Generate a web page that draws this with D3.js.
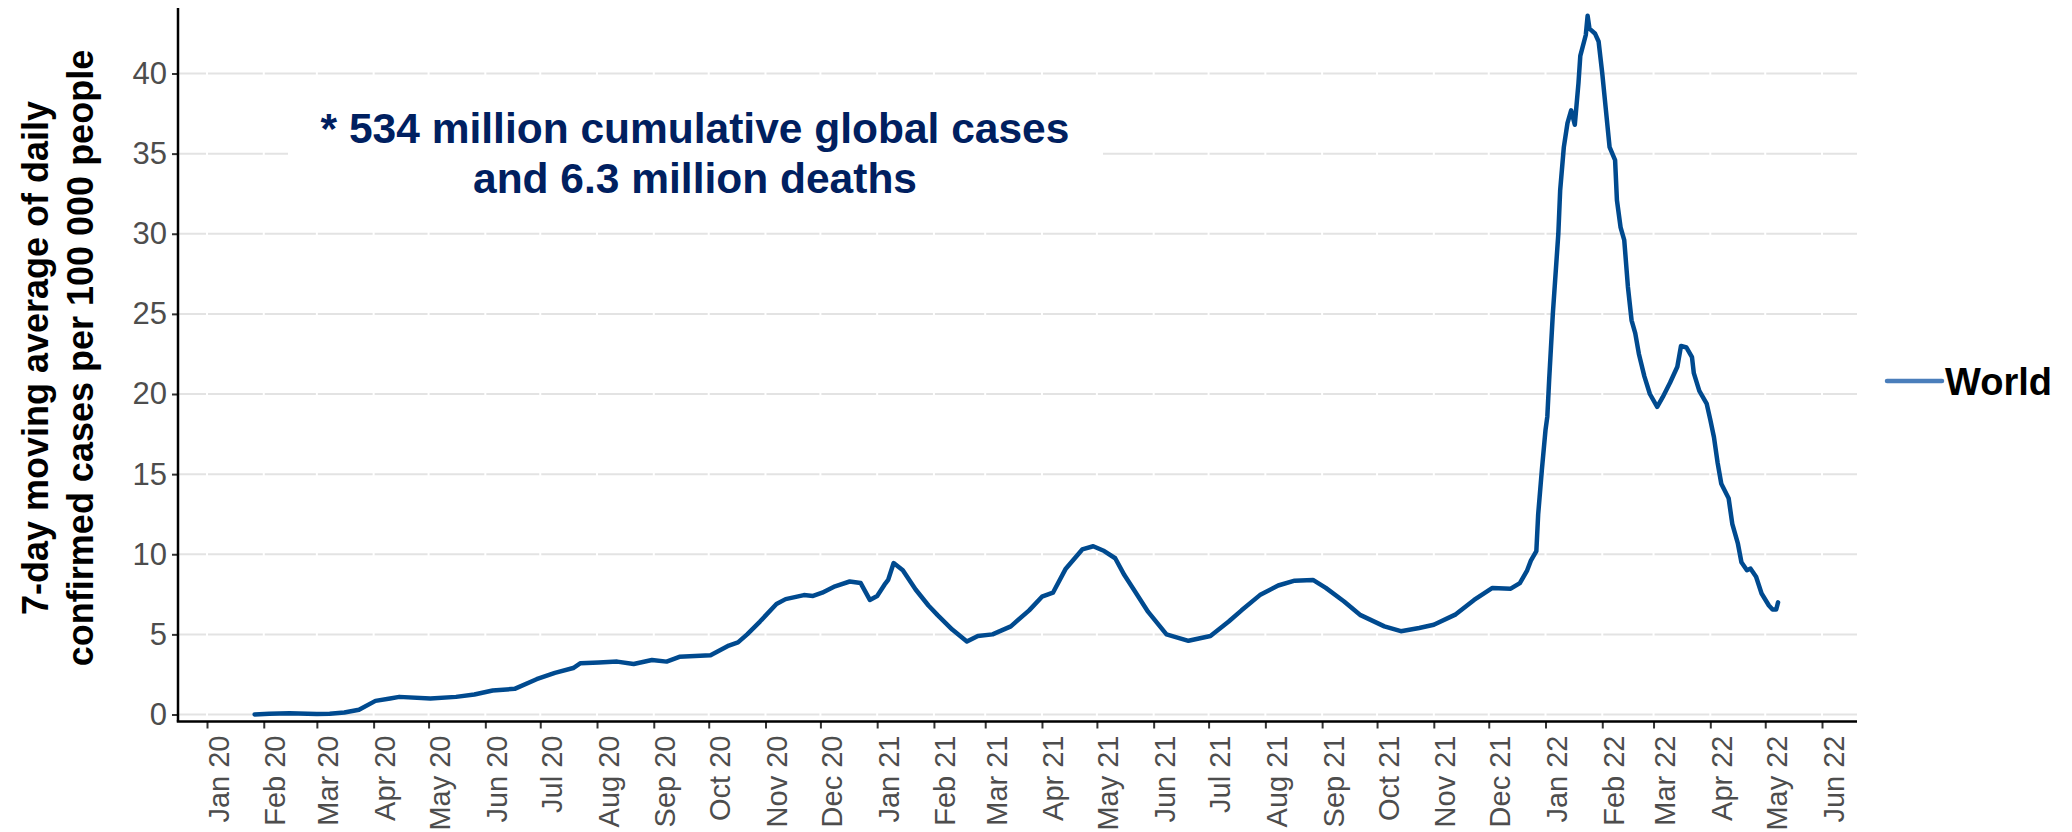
<!DOCTYPE html>
<html>
<head>
<meta charset="utf-8">
<script src="https://cdn.jsdelivr.net/npm/d3@7"></script>
<style>
  html, body { margin: 0; padding: 0; background: #ffffff; }
  svg { display: block; font-family: Arial, "Liberation Sans", sans-serif; }
</style>
</head>
<body>
<svg id="chart" width="2072" height="832"></svg>
<script>
// ---------------- data ----------------
const seriesName = "World";
const dates = [
  "2020-01-27","2020-02-04","2020-02-15","2020-03-01","2020-03-08","2020-03-16","2020-03-24","2020-04-02",
  "2020-04-10","2020-04-15","2020-05-02","2020-05-16","2020-05-26","2020-06-05","2020-06-17","2020-06-29",
  "2020-07-09","2020-07-19","2020-07-23","2020-08-02","2020-08-12","2020-08-21","2020-08-31","2020-09-08",
  "2020-09-15","2020-10-02","2020-10-12","2020-10-17","2020-10-22","2020-10-29","2020-11-07","2020-11-12",
  "2020-11-22","2020-11-27","2020-12-02","2020-12-09","2020-12-17","2020-12-23","2020-12-28","2021-01-01",
  "2021-01-05","2021-01-07","2021-01-10","2021-01-15","2021-01-22","2021-01-29","2021-02-03","2021-02-11",
  "2021-02-19","2021-02-25","2021-03-05","2021-03-15","2021-03-25","2021-04-01","2021-04-07","2021-04-14",
  "2021-04-23","2021-04-29","2021-05-05","2021-05-11","2021-05-16","2021-05-22","2021-05-29","2021-06-08",
  "2021-06-20","2021-07-02","2021-07-12","2021-07-19","2021-07-29","2021-08-08","2021-08-17","2021-08-27",
  "2021-09-03","2021-09-13","2021-09-22","2021-10-05","2021-10-14","2021-10-24","2021-11-01","2021-11-13",
  "2021-11-23","2021-12-03","2021-12-13","2021-12-18","2021-12-22","2021-12-24","2021-12-27","2021-12-28",
  "2021-12-30","2022-01-01","2022-01-02","2022-01-03","2022-01-05","2022-01-08","2022-01-09","2022-01-11",
  "2022-01-13","2022-01-15","2022-01-17","2022-01-19","2022-01-20","2022-01-23","2022-01-24","2022-01-25",
  "2022-01-28","2022-01-30","2022-02-01","2022-02-03","2022-02-05","2022-02-08","2022-02-09","2022-02-11",
  "2022-02-13","2022-02-15","2022-02-17","2022-02-19","2022-02-21","2022-02-24","2022-02-27","2022-03-03",
  "2022-03-06","2022-03-10","2022-03-14","2022-03-16","2022-03-19","2022-03-22","2022-03-23","2022-03-26",
  "2022-03-30","2022-04-01","2022-04-03","2022-04-05","2022-04-07","2022-04-11","2022-04-13","2022-04-16",
  "2022-04-18","2022-04-21","2022-04-23","2022-04-26","2022-04-29","2022-05-03","2022-05-05","2022-05-07",
  "2022-05-08"
];
const values = [
  0.0, 0.05, 0.08, 0.03, 0.05, 0.12, 0.3, 0.85,
  1.0, 1.1, 1.0, 1.1, 1.25, 1.5, 1.6, 2.2,
  2.6, 2.9, 3.2, 3.25, 3.3, 3.15, 3.4, 3.3,
  3.6, 3.7, 4.3, 4.5, 5.0, 5.8, 6.9, 7.2,
  7.45, 7.4, 7.6, 8.0, 8.3, 8.2, 7.15, 7.4,
  8.1, 8.4, 9.45, 9.0, 7.8, 6.8, 6.2, 5.3,
  4.55, 4.9, 5.0, 5.5, 6.5, 7.35, 7.6, 9.1,
  10.3, 10.5, 10.2, 9.75, 8.7, 7.65, 6.4, 5.0,
  4.6, 4.9, 5.8, 6.5, 7.45, 8.05, 8.35, 8.4,
  7.9, 7.05, 6.2, 5.5, 5.2, 5.4, 5.6, 6.25,
  7.15, 7.9, 7.85, 8.2, 9.0, 9.6, 10.2, 12.5,
  15.25, 17.75, 18.6, 20.9, 25.0, 30.0, 32.7, 35.4,
  36.9, 37.7, 36.8, 39.4, 41.1, 42.4, 43.6, 42.8,
  42.5, 42.0, 40.0, 37.7, 35.4, 34.6, 32.1, 30.4,
  29.6, 26.7, 24.6, 23.8, 22.5, 21.1, 20.0, 19.2,
  19.8, 20.7, 21.7, 23.0, 22.9, 22.3, 21.3, 20.2,
  19.4, 18.4, 17.3, 15.7, 14.4, 13.5, 11.9, 10.7,
  9.5, 9.0, 9.1, 8.6, 7.55, 6.8, 6.55, 6.55,
  7.0
];
const yTicks = [0, 5, 10, 15, 20, 25, 30, 35, 40];
const xTickStart = "2020-01-01";
const xTickEnd = "2022-06-01";
const yTitleLines = ["7-day moving average of daily", "confirmed cases per 100 000 people"];
const noteLines = ["* 534 million cumulative global cases", "and 6.3 million deaths"];

// ---------------- layout ----------------
const parse = d3.utcParse("%Y-%m-%d");
const data = dates.map((d, i) => ({ date: parse(d), value: values[i] }));

const plot = { left: 178, right: 1857, top: 8, bottom: 721.5 };

const x = d3.scaleUtc()
  .domain([parse(xTickStart), parse(xTickEnd)])
  .range([207, 1822]);
const y = d3.scaleLinear()
  .domain([0, 40])
  .range([714.5, 73.5]);

const months = d3.utcMonth.range(parse(xTickStart), d3.utcDay.offset(parse(xTickEnd), 1));
const fmt = d3.utcFormat("%b %y");

const svg = d3.select("#chart");
svg.append("rect").attr("width", 2072).attr("height", 832).attr("fill", "#ffffff");

// horizontal grid
svg.append("g").selectAll("line").data(yTicks).join("line")
  .attr("x1", plot.left).attr("x2", plot.right)
  .attr("y1", d => y(d)).attr("y2", d => y(d))
  .attr("stroke", "#e3e3e3").attr("stroke-width", 2);

// white vertical grid (breaks the horizontal lines at month ticks)
svg.append("g").selectAll("line").data(months).join("line")
  .attr("x1", d => x(d)).attr("x2", d => x(d))
  .attr("y1", plot.top).attr("y2", plot.bottom)
  .attr("stroke", "#ffffff").attr("stroke-width", 2);

// annotation box
const note = svg.append("g");
note.append("rect")
  .attr("x", 288).attr("y", 96).attr("width", 815).attr("height", 116)
  .attr("fill", "#ffffff");
note.selectAll("text").data(noteLines).join("text")
  .attr("x", 695).attr("y", (d, i) => 143 + i * 50)
  .attr("text-anchor", "middle")
  .attr("font-size", 42.5).attr("font-weight", "bold")
  .attr("fill", "#002060")
  .text(d => d);

// data line
const line = d3.line().x(d => x(d.date)).y(d => y(d.value)).curve(d3.curveLinear);
svg.append("path").datum(data)
  .attr("d", line)
  .attr("fill", "none")
  .attr("stroke", "#004a8f")
  .attr("stroke-width", 4.5)
  .attr("stroke-linejoin", "round")
  .attr("stroke-linecap", "round");

// x axis
const xAxis = svg.append("g").attr("transform", `translate(0,${plot.bottom})`)
  .call(d3.axisBottom(x).tickValues(months).tickFormat(fmt).tickSize(7).tickPadding(0));
xAxis.select(".domain").remove();
xAxis.selectAll(".tick line").attr("stroke", "#333333").attr("stroke-width", 2);
xAxis.selectAll(".tick text")
  .attr("font-size", 29)
  .attr("fill", "#4d4d4d")
  .attr("text-anchor", "end")
  .attr("dy", null)
  .attr("y", 0)
  .attr("transform", "translate(21,14) rotate(-90)");

// y axis
const yAxis = svg.append("g").attr("transform", `translate(${plot.left},0)`)
  .call(d3.axisLeft(y).tickValues(yTicks).tickSize(6).tickPadding(5));
yAxis.select(".domain").remove();
yAxis.selectAll(".tick line").attr("stroke", "#333333").attr("stroke-width", 2);
yAxis.selectAll(".tick text")
  .attr("font-size", 31)
  .attr("fill", "#4d4d4d");

// axis lines
svg.append("line")
  .attr("x1", plot.left).attr("x2", plot.left)
  .attr("y1", plot.top).attr("y2", plot.bottom)
  .attr("stroke", "#000000").attr("stroke-width", 2.5);
svg.append("line")
  .attr("x1", plot.left - 1.25).attr("x2", plot.right)
  .attr("y1", plot.bottom).attr("y2", plot.bottom)
  .attr("stroke", "#000000").attr("stroke-width", 2.5);

// y title
const yt = svg.append("text")
  .attr("transform", "translate(0,358) rotate(-90)")
  .attr("text-anchor", "middle")
  .attr("font-size", 36).attr("font-weight", "bold")
  .attr("fill", "#000000");
yt.selectAll("tspan").data(yTitleLines).join("tspan")
  .attr("x", 0).attr("y", (d, i) => 48 + i * 45)
  .text(d => d);

// legend
const lg = svg.append("g");
lg.append("line")
  .attr("x1", 1887).attr("x2", 1942).attr("y1", 381).attr("y2", 381)
  .attr("stroke", "#4a7ebb").attr("stroke-width", 4.5).attr("stroke-linecap", "round");
lg.append("text")
  .attr("x", 1945).attr("y", 395)
  .attr("font-size", 38).attr("font-weight", "bold").attr("fill", "#000000")
  .text(seriesName);
</script>
</body>
</html>
